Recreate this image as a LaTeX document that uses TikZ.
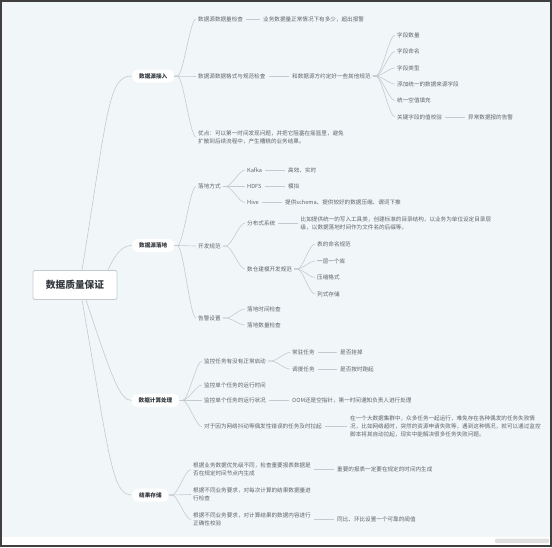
\documentclass[tikz,border=0pt]{standalone}
\usepackage{fontspec}
\setmainfont{Noto Sans CJK SC}
\definecolor{bg}{HTML}{F1F7F9}
\definecolor{wire}{HTML}{C4CBD0}
\definecolor{ink}{HTML}{5E6368}
\definecolor{dark}{HTML}{34393E}
\tikzset{
  topic/.style = {anchor=west, inner sep=2pt, text=ink, align=left,
    font=\fontsize{5.6}{8}\selectfont},
  branch/.style = {anchor=west, fill=white, rounded corners=6pt, inner xsep=7pt,
    inner ysep=0pt, minimum height=13pt, text=dark,
    font=\fontsize{5.6}{8}\selectfont\bfseries},
  rootbox/.style = {fill=white, draw=wire, line width=0.8pt, rounded corners=2pt,
    minimum width=84pt, minimum height=29pt, text=dark,
    font=\fontsize{9.7}{12}\selectfont\bfseries},
  fan/.style = {to path={-- ++(3,0) .. controls +(6,0) and +(-6,0) .. (\tikztotarget)}},
  link/.style = {shorten <=1pt, shorten >=1pt},
}
\begin{document}
\begin{tikzpicture}[x=1pt, y=-1pt]
\useasboundingbox (0,0) rectangle (552,547);
% frame
\fill[bg] (0,0) rectangle (552,547);
\fill[white] (2,537) rectangle (550,545);
\fill[black!12, rounded corners=1pt] (495,538.5) rectangle (549,543);
\draw[black!75, line width=2pt] (1,1) rectangle (551,546);

\node[rootbox] (root) at (75,285) {数据质量保证};

\begin{scope}[every node/.style = {branch}]
\node (b1) at (132,76) {数据源接入};
\node (b2) at (132,245.5) {数据源落地};
\node (b3) at (131.5,400.5) {数据计算处理};
\node (b4) at (132,495) {结果存储};
\end{scope}

\begin{scope}[every node/.style = {topic}]
% 数据源接入
\node (s1) at (196,19) {数据源数据量检查};
\node (s1a) at (261,19) {业务数据量正常情况下有多少，超出报警};
\node (s2) at (196,76) {数据源数据格式与规范检查};
\node (s2a) at (290,76) {和数据源方约定好一些其他规范};
\node (f1) at (395,35) {字段数量};
\node (f2) at (395,51.5) {字段命名};
\node (f3) at (395,68) {字段类型};
\node (f4) at (395,84) {添加统一的数据来源字段};
\node (f5) at (395,100.5) {统一空值填充};
\node (f6) at (395,117) {关键字段的值校验};
\node (f6a) at (466,117) {异常数据报的告警};
\node (s3) at (196,137) {优点：可以第一时间发现问题，并把它阻塞在摇篮里，避免\\扩散到后续流程中，产生糟糕的业务结果。};
% 数据源落地
\node (l1) at (196,186.5) {落地方式};
\node (k1) at (245,170) {Kafka};
\node (k1a) at (286,170) {高效、实时};
\node (k2) at (245,186.5) {HDFS};
\node (k2a) at (286,186.5) {模拟};
\node (k3) at (245,202.5) {Hive};
\node (k3a) at (283,202.5) {提供schema、提供较好的数据压缩、谓词下推};
\node (l2) at (196,246) {开发规范};
\node (d1) at (245,223) {分布式系统};
\node (d1a) at (298.5,223) {比如提供统一的写入工具类，创建标准的目录结构，以业务为单位设定目录层\\级，以数据落地时间作为文件名的后缀等。};
\node (d2) at (245,269) {数仓建模开发规范};
\node (m1) at (315,244) {表的命名规范};
\node (m2) at (315,261) {一层一个库};
\node (m3) at (315,277.5) {压缩格式};
\node (m4) at (315,294) {列式存储};
\node (l3) at (196,318) {告警设置};
\node (w1) at (245,309) {落地时间检查};
\node (w2) at (245,325) {落地数量检查};
% 数据计算处理
\node (c1) at (202,361) {监控任务有没有正常启动};
\node (t1) at (290,352.5) {常驻任务};
\node (t1a) at (338,352.5) {是否挂掉};
\node (t2) at (290,369) {调度任务};
\node (t2a) at (338,369) {是否按时跑起};
\node (c2) at (202,385) {监控单个任务的运行时间};
\node (c3) at (202,400.5) {监控单个任务的运行状况};
\node (c3a) at (290,400.5) {OOM还是空指针，第一时间通知负责人进行处理};
\node (c4) at (202,426.7) {对于因为网络抖动等偶发性错误的任务及时拉起};
\node (c4a) at (348,426.7) {在一个大数据集群中，众多任务一起运行，难免存在各种偶发的任务失败情\\况，比如网络超时，突然的资源申请失败等，遇到这种情况，就可以通过监控\\脚本将其自动拉起，现实中能解决很多任务失败问题。};
% 结果存储
\node (r1) at (191,469.5) {根据业务数据优先级不同，检查重要报表数据是\\否在规定时间节点内生成};
\node (r1a) at (335,469.5) {重要的报表一定要在规定的时间内生成};
\node (r2) at (191,494.5) {根据不同业务要求，对每次计算的结果数据量进\\行检查};
\node (r3) at (191,519.5) {根据不同业务要求，对计算结果的数据内容进行\\正确性校验};
\node (r3a) at (335,519.5) {同比、环比设置一个可靠的阈值};
\end{scope}

\begin{scope}[every edge/.style = {draw=wire, line width=0.6pt}]
\draw[wire, line width=0.6pt] ([xshift=7pt]root.north) .. controls +(26,-160) and +(-24,0) .. (b1.west);
\draw[wire, line width=0.6pt] ([xshift=33pt]root.north) .. controls +(8,-18) and +(-9,0) .. (b2.west);
\draw[wire, line width=0.6pt] ([xshift=11pt]root.south) .. controls +(25,75) and +(-12,0) .. (b3.west);
\draw[wire, line width=0.6pt] ([xshift=7pt]root.south) .. controls +(28,160) and +(-20,0) .. (b4.west);
\foreach \k in {s1,s2,s3} \path (b1.east) edge[fan] (\k.west);
\foreach \k in {f1,f2,f3,f4,f5,f6} \path (s2a.east) edge[fan] (\k.west);
\foreach \k in {l1,l2,l3} \path (b2.east) edge[fan] (\k.west);
\foreach \k in {k1,k2,k3} \path (l1.east) edge[fan] (\k.west);
\foreach \k in {d1,d2} \path (l2.east) edge[fan] (\k.west);
\foreach \k in {m1,m2,m3,m4} \path (d2.east) edge[fan] (\k.west);
\foreach \k in {w1,w2} \path (l3.east) edge[fan] (\k.west);
\foreach \k in {c1,c2,c3,c4} \path (b3.east) edge[fan] (\k.west);
\foreach \k in {t1,t2} \path (c1.east) edge[fan] (\k.west);
\foreach \k in {r1,r2,r3} \path (b4.east) edge[fan] (\k.west);
\path (s1) edge[link] (s1a);
\path (s2) edge[link] (s2a);
\path (f6) edge[link] (f6a);
\path (k1) edge[link] (k1a);
\path (k2) edge[link] (k2a);
\path (k3) edge[link] (k3a);
\path (d1) edge[link] (d1a);
\path (t1) edge[link] (t1a);
\path (t2) edge[link] (t2a);
\path (c3) edge[link] (c3a);
\path (c4) edge[link] (c4a);
\path (r1) edge[link] (r1a);
\path (r3) edge[link] (r3a);
\end{scope}
\end{tikzpicture}
\end{document}
